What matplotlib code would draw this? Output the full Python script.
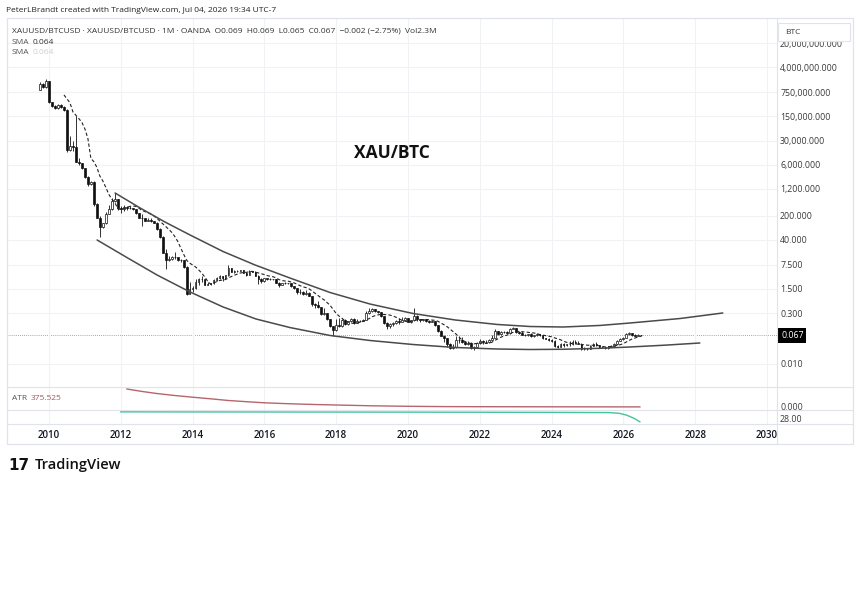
import numpy as np
import pandas as pd
import matplotlib
matplotlib.use("Agg")
import matplotlib.pyplot as plt
from matplotlib.patches import Rectangle
from matplotlib.lines import Line2D
from matplotlib.transforms import blended_transform_factory

plt.rcParams['font.family'] = ['Open Sans', 'DejaVu Sans']

# ---------------- DATA (monthly XAU/BTC candles, Oct 2009 .. Jul 2026) ----------------
first_month = "2009-10"
last_month = "2026-07"
first_open = 0.90e6

closes = [
    1.30e6, 1.05e6, 1.55e6,
    0.38e6, 0.30e6, 0.26e6, 0.32e6, 0.28e6, 0.23e6, 16000, 21000, 20000, 7200, 6600, 4700,
    2560, 1640, 1850, 446, 176, 93, 121, 223, 318, 530, 588, 332,
    316, 349, 341, 336, 303, 239, 172, 166, 143, 154, 137, 124,
    81, 47, 17, 10.6, 10.8, 12.7, 12.4, 10.3, 10.0, 6.5, 1.1, 1.49,
    1.56, 2.41, 2.82, 2.91, 1.98, 2.07, 2.19, 2.68, 3.12, 3.46, 3.10, 3.70,
    5.9, 4.77, 4.85, 5.0, 5.17, 4.46, 3.86, 4.93, 4.72, 3.64, 2.82, 2.47,
    3.04, 2.83, 2.96, 2.89, 2.29, 1.96, 2.16, 2.28, 2.16, 1.82, 1.58, 1.19,
    1.25, 1.05, 1.16, 0.94, 0.55, 0.50, 0.44, 0.28, 0.295, 0.196, 0.1275, 0.094,
    0.132, 0.128, 0.192, 0.142, 0.173, 0.196, 0.158, 0.171, 0.180, 0.190, 0.304, 0.343,
    0.382, 0.343, 0.315, 0.241, 0.153, 0.130, 0.140, 0.158, 0.177, 0.165, 0.194, 0.211,
    0.170, 0.185, 0.246, 0.195, 0.183, 0.195, 0.174, 0.169, 0.175, 0.136, 0.090, 0.0654,
    0.0558, 0.0384, 0.0290, 0.0307, 0.0511, 0.0506, 0.0437, 0.0385, 0.0401, 0.0291, 0.0311, 0.0395,
    0.0467, 0.0442, 0.0426, 0.0503, 0.0578, 0.0908, 0.0758, 0.0856, 0.0856, 0.0797, 0.1028, 0.110,
    0.0835, 0.0789, 0.0691, 0.0680, 0.0721, 0.0629, 0.0672, 0.0748, 0.0686, 0.0572, 0.0540, 0.0488,
    0.0479, 0.0334, 0.0313, 0.0377, 0.0345, 0.0371, 0.0379, 0.0424, 0.0416, 0.0390, 0.0275, 0.0281,
    0.0273, 0.0339, 0.0379, 0.0349, 0.0314, 0.0308, 0.0290, 0.0320, 0.0340, 0.0370, 0.0460, 0.0520,
    0.058, 0.072, 0.078, 0.070, 0.066, 0.069, 0.067,
]

highs = [
    1.45e6, 1.40e6, 1.80e6,
    1.60e6, 0.40e6, 0.32e6, 0.35e6, 0.34e6, 0.30e6, 0.24e6, 40000, 30000, 150000, 9500, 6900,
    4800, 2800, 2000, 2000, 470, 190, 125, 260, 400, 640, 900, 600,
    380, 400, 390, 370, 340, 310, 245, 220, 170, 165, 165, 140,
    127, 85, 50, 22, 13.5, 13.5, 18, 12.6, 11, 10.3, 6.7, 2.4,
    1.78, 3.0, 3.2, 3.5, 3.0, 2.35, 2.3, 3.0, 3.3, 3.7, 3.6, 3.9,
    7.5, 6.0, 5.3, 5.4, 5.4, 5.3, 4.5, 5.3, 5.1, 4.8, 3.8, 3.1,
    3.2, 3.2, 3.1, 3.0, 2.95, 2.4, 2.25, 2.45, 2.3, 2.2, 1.85, 1.6,
    1.45, 1.3, 1.35, 1.2, 0.95, 0.6, 0.68, 0.46, 0.43, 0.31, 0.20, 0.13,
    0.20, 0.22, 0.20, 0.20, 0.18, 0.215, 0.21, 0.20, 0.19, 0.195, 0.345, 0.42,
    0.41, 0.39, 0.35, 0.32, 0.245, 0.17, 0.15, 0.165, 0.185, 0.21, 0.23, 0.23,
    0.22, 0.19, 0.41, 0.27, 0.20, 0.20, 0.20, 0.19, 0.19, 0.18, 0.137, 0.095,
    0.070, 0.056, 0.040, 0.038, 0.064, 0.063, 0.060, 0.047, 0.045, 0.042, 0.033, 0.042,
    0.054, 0.050, 0.050, 0.053, 0.067, 0.103, 0.092, 0.090, 0.093, 0.088, 0.110, 0.115,
    0.113, 0.088, 0.092, 0.073, 0.074, 0.078, 0.069, 0.077, 0.075, 0.070, 0.058, 0.056,
    0.053, 0.049, 0.035, 0.040, 0.040, 0.039, 0.045, 0.051, 0.048, 0.046, 0.040, 0.032,
    0.030, 0.035, 0.040, 0.043, 0.036, 0.033, 0.031, 0.034, 0.036, 0.040, 0.050, 0.055,
    0.061, 0.080, 0.085, 0.080, 0.072, 0.072, 0.069,
]

lows = [
    0.88e6, 1.00e6, 1.00e6,
    0.36e6, 0.28e6, 0.24e6, 0.25e6, 0.26e6, 0.22e6, 14000, 14500, 15000, 7000, 6000, 4500,
    2400, 1400, 1550, 380, 170, 48, 90, 115, 220, 300, 480, 300,
    240, 270, 300, 310, 290, 230, 165, 100, 135, 135, 130, 120,
    78, 45, 16, 5.5, 9.8, 10, 11, 9.6, 9.3, 5.9, 1.0, 1.05,
    1.2, 1.5, 2.0, 2.4, 1.9, 1.95, 2.0, 2.15, 2.5, 3.0, 2.6, 3.0,
    3.6, 4.5, 4.2, 4.7, 4.9, 4.4, 3.6, 3.8, 4.6, 3.5, 2.1, 2.3,
    2.4, 2.7, 2.8, 2.75, 2.2, 1.68, 1.9, 2.1, 2.1, 1.75, 1.5, 1.1,
    1.1, 1.0, 1.0, 0.92, 0.48, 0.41, 0.42, 0.27, 0.26, 0.19, 0.115, 0.066,
    0.088, 0.115, 0.12, 0.135, 0.135, 0.165, 0.145, 0.15, 0.165, 0.18, 0.185, 0.29,
    0.33, 0.33, 0.305, 0.235, 0.14, 0.10, 0.11, 0.125, 0.145, 0.145, 0.16, 0.19,
    0.16, 0.15, 0.18, 0.18, 0.165, 0.175, 0.16, 0.155, 0.16, 0.13, 0.085, 0.063,
    0.044, 0.031, 0.027, 0.0275, 0.029, 0.041, 0.041, 0.036, 0.035, 0.0265, 0.0258, 0.029,
    0.038, 0.039, 0.040, 0.040, 0.048, 0.057, 0.070, 0.069, 0.080, 0.077, 0.075, 0.100,
    0.080, 0.074, 0.067, 0.064, 0.066, 0.061, 0.062, 0.066, 0.066, 0.054, 0.052, 0.046,
    0.042, 0.032, 0.029, 0.031, 0.032, 0.033, 0.034, 0.036, 0.040, 0.037, 0.026, 0.025,
    0.0255, 0.0265, 0.033, 0.033, 0.030, 0.029, 0.027, 0.028, 0.031, 0.033, 0.036, 0.045,
    0.050, 0.057, 0.068, 0.066, 0.063, 0.064, 0.065,
]

sma_length = 9

# hand-drawn arcs
upper_arc_years = [2011.84, 2012.54, 2013.23, 2013.93, 2014.85, 2015.74, 2016.71, 2017.83, 2018.94,
                   2020.14, 2021.31, 2022.48, 2023.40, 2024.32, 2025.35, 2026.18, 2027.58, 2028.77]
upper_arc_prices = [905, 332, 130.6, 54.8, 18.2, 7.41, 3.11, 1.18, 0.548,
                    0.291, 0.189, 0.140, 0.122, 0.118, 0.131, 0.154, 0.208, 0.301]
lower_arc_years = [2011.34, 2012.17, 2013.01, 2013.93, 2014.85, 2015.77, 2016.71, 2017.83, 2018.94,
                   2020.14, 2021.31, 2022.48, 2023.40, 2024.32, 2025.35, 2026.18, 2027.16, 2028.13]
lower_arc_prices = [39.3, 12.2, 3.80, 1.22, 0.449, 0.201, 0.114, 0.067, 0.048,
                    0.0367, 0.0301, 0.0272, 0.0263, 0.0267, 0.0285, 0.0311, 0.0351, 0.0406]

# ATR pane (red) and lower indicator pane (green)
atr_years = [2012.17, 2012.6, 2013.0, 2013.5, 2014.0, 2014.5, 2015.0, 2015.5, 2016.0, 2016.5,
             2017.0, 2017.5, 2018.0, 2019.0, 2020.0, 2021.0, 2022.0, 2023.0, 2024.0, 2025.0, 2026.46]
atr_values = [18, 15.5, 13.5, 11.5, 9.8, 8.2, 6.5, 5.3, 4.2, 3.5,
              2.9, 2.4, 2.0, 1.2, 0.7, 0.4, 0.3, 0.25, 0.2, 0.15, 0.1]
ind_years = [2012.0, 2016.0, 2020.0, 2024.0, 2025.6, 2025.9, 2026.1, 2026.3, 2026.46]
ind_values = [39.4, 39.2, 39.0, 38.6, 38.3, 37.0, 34.0, 29.0, 23.5]

price_ticks = [0.01, 0.3, 1.5, 7.5, 40, 200, 1200, 6000, 30000, 150000, 750000, 4000000, 20000000]
year_ticks = [2010, 2012, 2014, 2016, 2018, 2020, 2022, 2024, 2026, 2028, 2030]

header = "PeterLBrandt created with TradingView.com, Jul 04, 2026 19:34 UTC-7"
legend1 = ("XAUUSD/BTCUSD · XAUUSD/BTCUSD · 1M · OANDA  O0.069  H0.069  L0.065  C0.067"
           "  −0.002 (−2.75%)  Vol2.3M")
sma_label = "SMA"
sma_value = "0.064"
title = "XAU/BTC"
atr_label = "ATR"
atr_value = "375.525"

# ---------------- derived series ----------------
months = pd.period_range(first_month, last_month, freq="M")
t = np.array([p.year + (p.month - 1) / 12 for p in months])
c = np.array(closes, dtype=float)
h = np.array(highs, dtype=float)
lo = np.array(lows, dtype=float)
o = np.concatenate([[first_open], c[:-1]])
sma = pd.Series(c).rolling(sma_length).mean().to_numpy()

# ---------------- layout ----------------
W, H = 860, 601
fig = plt.figure(figsize=(8.6, 6.01), dpi=100)
fig.patch.set_facecolor("white")


def fx(px):
    return px / W


def fy(py):
    return 1 - py / H


L, R, RR = 7, 777, 853
T, B1, B2, B3, B4 = 18, 387, 410, 424, 444
GRID = "#f0f2f6"
FRAME = "#e0e3eb"
TXT = "#3a3a3a"

ax = fig.add_axes([fx(L), fy(B1), fx(R) - fx(L), fy(T) - fy(B1)])
ax2 = fig.add_axes([fx(L), fy(B2), fx(R) - fx(L), fy(B1) - fy(B2)], sharex=ax)
ax3 = fig.add_axes([fx(L), fy(B3), fx(R) - fx(L), fy(B2) - fy(B3)], sharex=ax)

for a in (ax, ax2, ax3):
    a.set_facecolor("none")
    for s in a.spines.values():
        s.set_visible(False)
    a.yaxis.tick_right()
    a.tick_params(axis="y", length=0, pad=2.2, labelsize=6.3, labelcolor=TXT)
    a.tick_params(axis="x", length=0)
    a.set_xticks(year_ticks)
    a.grid(True, axis="x", color=GRID, lw=0.8, zorder=0)

ax.set_xlim(2008.83, 2030.28)

# main pane
ax.set_yscale("log")
ax.set_ylim(10 ** -2.667, 10 ** 8.029)
ax.set_yticks(price_ticks)
ax.set_yticklabels([f"{v:,.3f}" for v in price_ticks])
ax.yaxis.set_minor_locator(matplotlib.ticker.NullLocator())
ax.grid(True, axis="y", color=GRID, lw=0.8, zorder=0)
ax.tick_params(axis="x", labelbottom=False)

w = 0.05
up = c >= o
ax.vlines(t, lo, h, color="#111111", lw=0.6, zorder=2)
bot = np.minimum(o, c)
hei = np.maximum(np.abs(c - o), bot * 0.01)
ax.bar(t[up], hei[up], bottom=bot[up], width=w, color="white", edgecolor="#111111", lw=0.5, zorder=3)
ax.bar(t[~up], hei[~up], bottom=bot[~up], width=w, color="#111111", edgecolor="#111111", lw=0.5, zorder=3)

ax.plot(t, sma, color="#222222", lw=0.8, ls=(0, (3, 2)), zorder=4)
ax.plot(upper_arc_years, upper_arc_prices, color="#4a4a4a", lw=1.1, zorder=4,
        solid_capstyle="round", solid_joinstyle="round")
ax.plot(lower_arc_years, lower_arc_prices, color="#4a4a4a", lw=1.1, zorder=4,
        solid_capstyle="round", solid_joinstyle="round")
ax.axhline(c[-1], color="#8a8a8a", lw=0.6, ls=(0, (1, 1.5)), zorder=1)

tr = blended_transform_factory(fig.transFigure, ax.transData)
ax.text(fx(781), c[-1], f"{c[-1]:.3f}", transform=tr, fontsize=6.3, color="white", va="center", ha="left",
        bbox=dict(boxstyle="square,pad=0.3", fc="black", ec="none"), zorder=12, clip_on=False)

# ATR pane
ax2.set_ylim(-3, 20)
ax2.set_yticks([0])
ax2.set_yticklabels(["0.000"])
ax2.tick_params(axis="x", labelbottom=False)
ax2.plot(atr_years, atr_values, color="#b5656b", lw=1.0, zorder=3)

# indicator pane
ax3.set_ylim(20, 42.4)
ax3.set_yticks([28])
ax3.set_yticklabels(["28.00"])
ax3.plot(ind_years, ind_values, color="#45c39a", lw=1.0, zorder=3)
ax3.tick_params(axis="x", labelsize=7, labelcolor="#131722", pad=4)
for lab in ax3.get_xticklabels():
    lab.set_fontweight("semibold")

# frame and separators
fig.add_artist(Rectangle((fx(L), fy(B4)), fx(RR) - fx(L), fy(T) - fy(B4), transform=fig.transFigure,
                         fill=False, ec=FRAME, lw=0.9, zorder=5))
for py in (B1, B2, B3):
    fig.add_artist(Line2D([fx(L), fx(RR)], [fy(py), fy(py)], transform=fig.transFigure, color=FRAME, lw=0.8, zorder=5))
fig.add_artist(Line2D([fx(R), fx(R)], [fy(T), fy(B4)], transform=fig.transFigure, color=FRAME, lw=0.8, zorder=5))

# BTC unit box
fig.add_artist(Rectangle((fx(778), fy(41)), fx(850) - fx(778), fy(23) - fy(41), transform=fig.transFigure,
                         fc="white", ec=FRAME, lw=0.8, zorder=10))
fig.text(fx(785), fy(32), "BTC", fontsize=6, color=TXT, va="center", zorder=11)

# texts
fig.text(fx(6), fy(10), header, fontsize=6, color="#222222", va="center")
fig.text(fx(12), fy(31), legend1, fontsize=6, color="#333333", va="center")
fig.text(fx(12), fy(42), sma_label, fontsize=6, color="#555555", va="center")
fig.text(fx(33), fy(42), sma_value, fontsize=6, color="#333333", va="center")
fig.text(fx(12), fy(53), sma_label, fontsize=6, color="#555555", va="center")
fig.text(fx(33), fy(53), sma_value, fontsize=6, color="#cfcfcf", va="center")
fig.text(fx(392), fy(153), title, fontsize=12.5, fontweight="bold", color="#111111", ha="center", va="center")
fig.text(fx(12), fy(398), atr_label, fontsize=6, color="#555555", va="center")
fig.text(fx(31), fy(398), atr_value, fontsize=6, color="#a05a5f", va="center")

# TradingView logo
fig.text(fx(8), fy(465), "17", fontsize=11, fontweight="heavy", family="DejaVu Sans", color="#111111", va="center")
fig.text(fx(35), fy(465), "TradingView", fontsize=10.5, fontweight="semibold", color="#111111", va="center")

fig.savefig("out.png", dpi=100, facecolor="white")
